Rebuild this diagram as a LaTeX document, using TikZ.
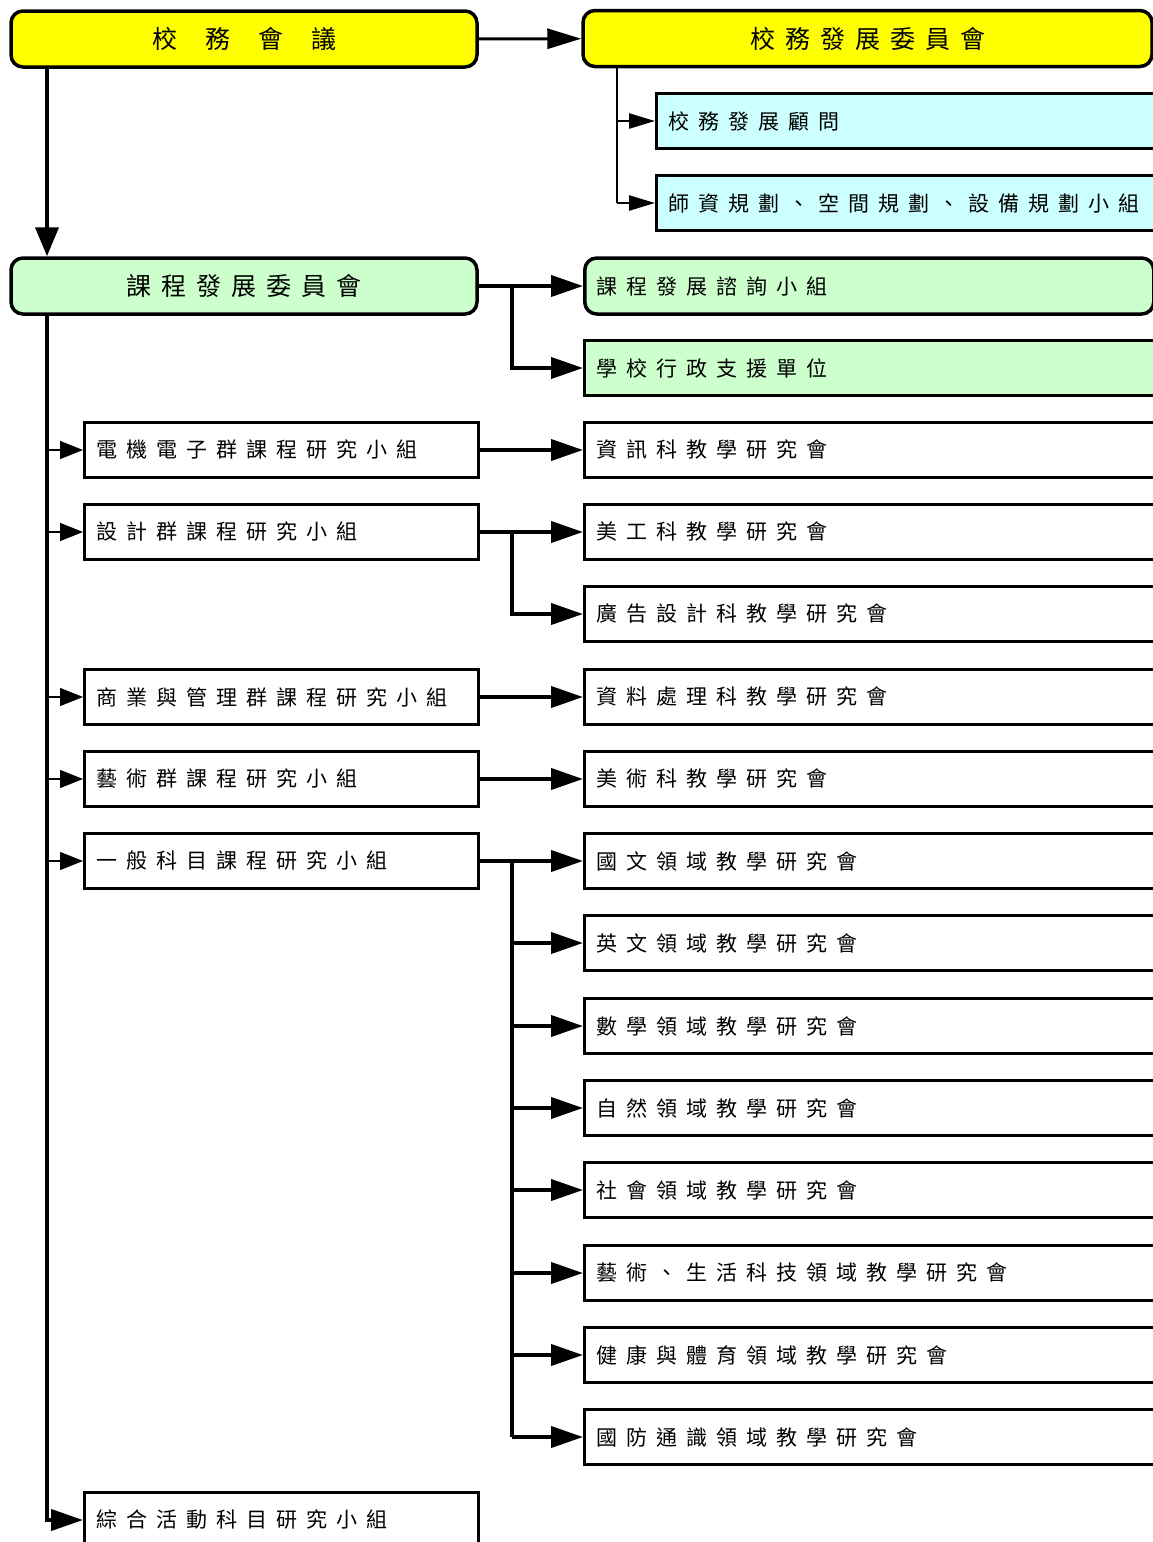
\documentclass[tikz,border=0pt]{standalone}
\usepackage{fontspec}
\usetikzlibrary{arrows.meta,positioning}
\newfontfamily\cjk[LetterSpace=43]{Noto Sans CJK TC}
\newfontfamily\cjkhd[LetterSpace=40]{Noto Sans CJK TC}
\newfontfamily\cjkwide[LetterSpace=112]{Noto Sans CJK TC}
\definecolor{hdyellow}{HTML}{FFFF00}
\definecolor{lcyan}{HTML}{CCFFFF}
\definecolor{lgreen}{HTML}{CCFFCC}

\tikzset{
  rbox/.style={draw, line width=3.5pt, rounded corners=12pt, minimum height=56pt, inner sep=0pt},
  sbox/.style={draw, line width=2.5pt, minimum height=55pt, inner ysep=0pt, inner xsep=12pt,
    anchor=west, align=left, font=\cjk\fontsize{21pt}{25pt}\selectfont},
  lbox/.style={sbox, text width=370pt},
  wbox/.style={sbox, text width=580pt},
  link/.style={line width=4pt, -{Triangle[length=32pt,width=21pt]}},
  tap/.style={line width=1.2pt, -{Triangle[length=23pt,width=18pt]}},
  sub/.style={line width=2.5pt, -{Triangle[length=26pt,width=15pt]}},
}

\begin{document}
\begin{tikzpicture}[x=1pt, y=-1pt]
  \useasboundingbox (0,0) rectangle (1153,1542);
  \clip (0,0) rectangle (1153,1542);

  % spine and junction columns
  \coordinate (lx) at (47,0);
  \coordinate (bx) at (617,0);
  \coordinate (jx) at (512,0);

  % top level
  \node[rbox, fill=hdyellow, minimum width=466pt, font=\cjkwide\fontsize{25pt}{28pt}\selectfont] (meet) at (244,39) {校務會議};
  \node[rbox, fill=hdyellow, minimum width=569pt, font=\cjkhd\fontsize{25pt}{28pt}\selectfont] (dev) at (867.5,38.5) {校務發展委員會};
  \node[wbox, fill=lcyan] (adv) at (655,121) {校務發展顧問};
  \node[wbox, fill=lcyan] (plan) at (655,203) {師資規劃、空間規劃、設備規劃小組};

  \node[rbox, fill=lgreen, minimum width=466pt, font=\cjkhd\fontsize{25pt}{28pt}\selectfont] (cdc) at (244,286) {課程發展委員會};
  \node[rbox, fill=lgreen, anchor=west, minimum width=569pt, text width=545pt, inner xsep=12pt, align=left, font=\cjk\fontsize{21pt}{25pt}\selectfont] (cons) at (583,286) {課程發展諮詢小組};
  \node[wbox, fill=lgreen] (admin) at (583,368) {學校行政支援單位};

  % group boxes
  \node[lbox] (g1) at (83,450) {電機電子群課程研究小組};
  \node[lbox] (g2) at (83,532) {設計群課程研究小組};
  \node[lbox] (g3) at (83,697) {商業與管理群課程研究小組};
  \node[lbox] (g4) at (83,779) {藝術群課程研究小組};
  \node[lbox] (g5) at (83,861) {一般科目課程研究小組};
  \node[lbox] (g6) at (83,1520) {綜合活動科目研究小組};

  % subject meetings
  \node[wbox] (r1) at (583,450) {資訊科教學研究會};
  \node[wbox] (r2) at (583,532) {美工科教學研究會};
  \node[wbox] (r3) at (583,614) {廣告設計科教學研究會};
  \node[wbox] (r4) at (583,697) {資料處理科教學研究會};
  \node[wbox] (r5) at (583,779) {美術科教學研究會};
  \node[wbox] (r6) at (583,861) {國文領域教學研究會};
  \node[wbox] (r7) at (583,943) {英文領域教學研究會};
  \node[wbox] (r8) at (583,1026) {數學領域教學研究會};
  \node[wbox] (r9) at (583,1108) {自然領域教學研究會};
  \node[wbox] (r10) at (583,1190) {社會領域教學研究會};
  \node[wbox] (r11) at (583,1273) {藝術、生活科技領域教學研究會};
  \node[wbox] (r12) at (583,1355) {健康與體育領域教學研究會};
  \node[wbox] (r13) at (583,1437) {國防通識領域教學研究會};

  % connectors
  \draw[line width=3pt, -{Triangle[length=34pt,width=20pt]}] (meet) -- (dev);
  \draw[line width=4pt, -{Triangle[length=29pt,width=23pt]}] (meet.south -| lx) -- (cdc.north -| lx);
  \draw[line width=2.5pt] (dev.south -| bx) -- (plan.west -| bx);
  \draw[sub] (adv.west -| bx) -- (adv.west);
  \draw[sub] (plan.west -| bx) -- (plan.west);

  \draw[link] (cdc.east) -- (cons.west);
  \draw[link] (cdc.east -| jx) |- (admin.west);

  \draw[link] (cdc.south -| lx) |- (g6.west);
  \foreach \g in {g1,g2,g3,g4,g5}
    \draw[tap] (\g.west -| lx) -- (\g.west);

  \draw[link] (g1) -- (r1);
  \draw[link] (g2) -- (r2);
  \draw[link] (g2.east -| jx) |- (r3.west);
  \draw[link] (g3) -- (r4);
  \draw[link] (g4) -- (r5);
  \draw[link] (g5) -- (r6);
  \draw[line width=4pt] (g5.east -| jx) -- (r13.west -| jx);
  \foreach \r in {r7,r8,r9,r10,r11,r12,r13}
    \draw[link] (\r.west -| jx) -- (\r.west);
\end{tikzpicture}
\end{document}
